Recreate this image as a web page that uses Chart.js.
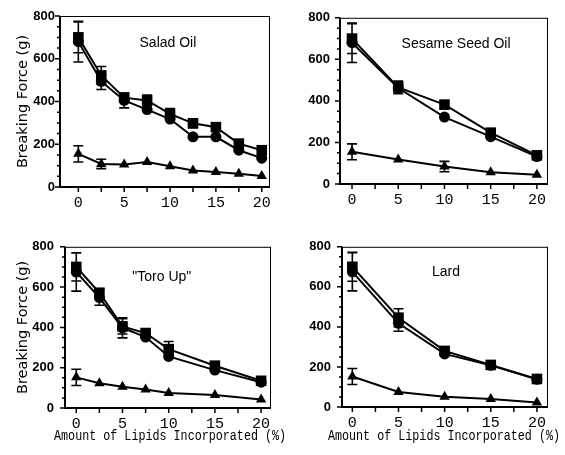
<!DOCTYPE html>
<html>
<head>
<meta charset="utf-8">
<script src="https://cdn.jsdelivr.net/npm/chart.js@4.4.0/dist/chart.umd.min.js"></script>
<style>
body { margin: 0; background: #fff; }
#wrap { position: relative; width: 565px; height: 455px; background: #fff; }
#wrap canvas { position: absolute; }
</style>
</head>
<body>
<div id="wrap">
    <canvas id="c1" width="282" height="228" style="left:0;top:0"></canvas>
    <canvas id="c2" width="283" height="228" style="left:282px;top:0"></canvas>
    <canvas id="c3" width="300" height="227" style="left:0;top:228px"></canvas>
    <canvas id="c4" width="283" height="227" style="left:282px;top:228px"></canvas>
</div>
<script>
// ticks
var xTickLabels = [0, 5, 10, 15, 20];
var xMinorTicks = [0, 2.5, 5, 7.5, 10, 12.5, 15, 17.5, 20];
var yTickLabels = [0, 200, 400, 600, 800];
var yMinorTicks = [50, 100, 150, 250, 300, 350, 450, 500, 550, 650, 700, 750];

// Salad Oil
var saladX = [0, 2.5, 5, 7.5, 10, 12.5, 15, 17.5, 20];
var saladSq = [700, 522, 418, 405, 342, 298, 280, 203, 172];
var saladSqErr = [72, 42, 20, 25, 25, 20, 0, 0, 0];
var saladCi = [680, 494, 405, 362, 318, 235, 235, 172, 135];
var saladCiErr = [95, 38, 35, 0, 0, 0, 0, 0, 0];
var saladTr = [155, 108, 105, 117, 97, 77, 70, 62, 52];
var saladTrErr = [38, 22, 0, 0, 0, 0, 0, 0, 0];

// Sesame Seed Oil
var sesameX = [0, 5, 10, 15, 20];
var sesameSq = [700, 465, 382, 247, 138];
var sesameSqErr = [72, 30, 0, 0, 0];
var sesameCi = [680, 462, 322, 228, 132];
var sesameCiErr = [95, 0, 0, 0, 0];
var sesameTr = [155, 118, 84, 56, 44];
var sesameTrErr = [38, 0, 25, 0, 0];

// "Toro Up"
var toroX = [0, 2.5, 5, 7.5, 10, 15, 20];
var toroSq = [700, 572, 405, 372, 292, 210, 135];
var toroSqErr = [70, 20, 38, 0, 38, 0, 0];
var toroCi = [675, 548, 398, 352, 256, 188, 128];
var toroCiErr = [95, 38, 50, 0, 0, 0, 0];
var toroTr = [152, 123, 105, 92, 75, 65, 42];
var toroTrErr = [40, 0, 0, 0, 0, 0, 0];

// Lard
var lardX = [0, 5, 10, 15, 20];
var lardSq = [700, 446, 280, 210, 140];
var lardSqErr = [72, 45, 0, 0, 0];
var lardCi = [675, 418, 265, 208, 138];
var lardCiErr = [95, 40, 0, 0, 0];
var lardTr = [152, 75, 51, 40, 23];
var lardTrErr = [40, 0, 0, 0, 0];

var yTitle = "Breaking Force (g)";
var xTitle = "Amount of Lipids Incorporated (%)";

graficos = new Object();

//moldura, marcas dos eixos, barras de erro e titulos
graficos.moldura = {
    id: "moldura",
    beforeDatasetsDraw: function (chart) {
        var ctx = chart.ctx, xs = chart.scales.x, ys = chart.scales.y;
        ctx.save();
        ctx.strokeStyle = "#000";
        ctx.lineWidth = 1.6;
        ctx.beginPath();
        chart.data.datasets.forEach(function (ds) {
            ds.data.forEach(function (p, j) {
                var e = ds.erro[j];
                if (!e) return;
                var x = xs.getPixelForValue(p.x);
                var y1 = ys.getPixelForValue(p.y + e);
                var y2 = ys.getPixelForValue(p.y - e);
                ctx.moveTo(x, y1); ctx.lineTo(x, y2);
                ctx.moveTo(x - 5, y1); ctx.lineTo(x + 5, y1);
                ctx.moveTo(x - 5, y2); ctx.lineTo(x + 5, y2);
            });
        });
        ctx.stroke();
        ctx.restore();
    },
    afterDraw: function (chart, args, opts) {
        var ctx = chart.ctx, a = chart.chartArea, xs = chart.scales.x, ys = chart.scales.y;
        ctx.save();
        ctx.strokeStyle = "#000";
        ctx.lineWidth = 1;
        ctx.strokeRect(a.left, a.top + 0.5, a.right - a.left - 0.5, a.bottom - a.top);
        ctx.lineWidth = 2;
        ctx.beginPath();
        ctx.moveTo(a.left, a.top);
        ctx.lineTo(a.left, a.bottom);
        ctx.lineTo(a.right, a.bottom);
        ctx.stroke();

        ctx.lineWidth = 1.5;
        ctx.beginPath();
        yTickLabels.forEach(function (v) {
            var y = ys.getPixelForValue(v);
            ctx.moveTo(a.left - 5, y); ctx.lineTo(a.left, y);
        });
        yMinorTicks.forEach(function (v) {
            var y = ys.getPixelForValue(v);
            ctx.moveTo(a.left - 3, y); ctx.lineTo(a.left, y);
        });
        xMinorTicks.forEach(function (v) {
            var x = xs.getPixelForValue(v);
            ctx.moveTo(x, a.bottom); ctx.lineTo(x, a.bottom + 5);
        });
        ctx.stroke();

        ctx.fillStyle = "#000";
        ctx.font = "14px 'Liberation Sans', Arial, sans-serif";
        ctx.textAlign = "center";
        ctx.textBaseline = "middle";
        ctx.fillText(opts.titulo, a.left + (a.right - a.left) * opts.tx, a.top + (a.bottom - a.top) * opts.ty);

        //titulo do eixo x, largo demais para o titulo da escala
        if (opts.comXTitulo) {
            ctx.font = "14px 'Liberation Mono', monospace";
            ctx.fillText(xTitle, a.left + (a.right - a.left) * opts.xtx, chart.height - 19, 232);
        }
        ctx.restore();
    }
};

graficos.painel = function (id, cfg) {
    var ctx = document.getElementById(id);

    var serie = function (ys, erro, estilo, raio) {
        return {
            data: cfg.x.map(function (x, i) { return {x: x, y: ys[i]}; }),
            erro: erro,
            borderColor: "#000",
            backgroundColor: "#000",
            borderWidth: 2,
            pointStyle: estilo,
            pointRadius: raio,
            pointBorderWidth: 0,
            tension: 0,
            clip: false
        };
    };

    return new Chart(ctx, {
        type: "line",
        data: {
            datasets: [
                serie(cfg.sq, cfg.sqErr, "rect", 7.5),
                serie(cfg.ci, cfg.ciErr, "circle", 5.5),
                serie(cfg.tr, cfg.trErr, "triangle", 6)
            ]
        },
        options: {
            responsive: false,
            animation: false,
            events: [],
            layout: { autoPadding: false, padding: cfg.padding },
            plugins: {
                legend: { display: false },
                tooltip: { enabled: false },
                moldura: { titulo: cfg.titulo, tx: cfg.tx, ty: cfg.ty, comXTitulo: cfg.comXTitulo, xtx: cfg.xtx }
            },
            scales: {
                x: {
                    type: "linear",
                    min: cfg.xMin,
                    max: cfg.xMax,
                    afterBuildTicks: function (axis) {
                        axis.ticks = xTickLabels.map(function (v) { return {value: v}; });
                    },
                    afterFit: function (axis) { axis.height = cfg.xAltura; },
                    grid: { display: false, drawTicks: false },
                    border: { display: false },
                    ticks: {
                        color: "#000",
                        padding: 7,
                        maxRotation: 0,
                        autoSkip: false,
                        font: { family: "'Liberation Mono', monospace", size: 15 }
                    }
                },
                y: {
                    min: 0,
                    max: 800,
                    afterBuildTicks: function (axis) {
                        axis.ticks = yTickLabels.map(function (v) { return {value: v}; });
                    },
                    afterFit: function (axis) { axis.width = cfg.yLargura; },
                    grid: { display: false, drawTicks: false },
                    border: { display: false },
                    ticks: {
                        color: "#000",
                        padding: cfg.yPad,
                        font: { family: "'Liberation Sans', Arial, sans-serif", size: 13, weight: "bold" }
                    },
                    title: {
                        display: cfg.comYTitulo,
                        text: yTitle,
                        color: "#000",
                        font: { family: "'DejaVu Sans', sans-serif", size: 14.5 },
                        padding: { top: 15, bottom: 0 }
                    }
                }
            }
        },
        plugins: [graficos.moldura]
    });
};

graficos.painel("c1", {
    x: saladX, sq: saladSq, sqErr: saladSqErr, ci: saladCi, ciErr: saladCiErr, tr: saladTr, trErr: saladTrErr,
    titulo: "Salad Oil", tx: 0.514, ty: 0.158,
    padding: { top: 16, right: 12, left: 0, bottom: 0 },
    yLargura: 60, xAltura: 41, xMin: -2, xMax: 20.9, yPad: 5,
    comYTitulo: true, comXTitulo: false
});

graficos.painel("c2", {
    x: sesameX, sq: sesameSq, sqErr: sesameSqErr, ci: sesameCi, ciErr: sesameCiErr, tr: sesameTr, trErr: sesameTrErr,
    titulo: "Sesame Seed Oil", tx: 0.558, ty: 0.16,
    padding: { top: 15, right: 17, left: 0, bottom: 0 },
    yLargura: 58, xAltura: 44, xMin: -1.3, xMax: 21.2, yPad: 10,
    comYTitulo: false, comXTitulo: false
});

graficos.painel("c3", {
    x: toroX, sq: toroSq, sqErr: toroSqErr, ci: toroCi, ciErr: toroCiErr, tr: toroTr, trErr: toroTrErr,
    titulo: "\"Toro Up\"", tx: 0.47, ty: 0.187,
    padding: { top: 9, right: 29, left: 0, bottom: 0 },
    yLargura: 65, xAltura: 47, xMin: -1.22, xMax: 21.07, yPad: 11,
    comYTitulo: true, comXTitulo: true, xtx: 0.51
});

graficos.painel("c4", {
    x: lardX, sq: lardSq, sqErr: lardSqErr, ci: lardCi, ciErr: lardCiErr, tr: lardTr, trErr: lardTrErr,
    titulo: "Lard", tx: 0.505, ty: 0.158,
    padding: { top: 8, right: 17, left: 0, bottom: 0 },
    yLargura: 60, xAltura: 48, xMin: -1.12, xMax: 21.2, yPad: 11,
    comYTitulo: false, comXTitulo: true, xtx: 0.495
});
</script>
</body>
</html>
